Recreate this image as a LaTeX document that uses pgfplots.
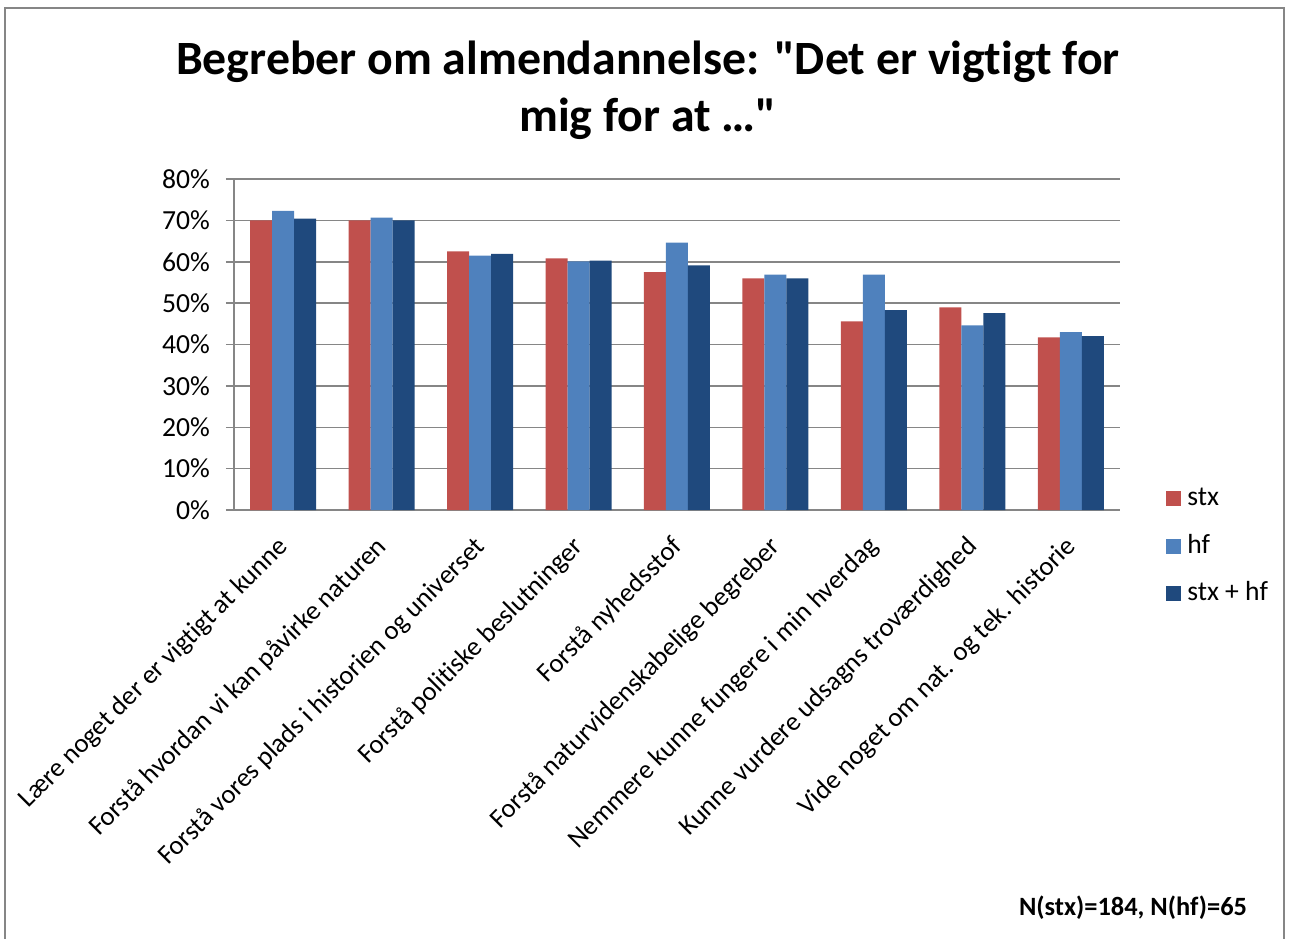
\documentclass[border=0pt]{standalone}
\usepackage{fontspec}
\setmainfont{Carlito}[Ligatures={TeX,NoCommon}]
\newfontfamily\titlefont{Carlito}[Ligatures=NoCommon]
\usepackage{pgfplots}
\pgfplotsset{compat=1.18}
\definecolor{cstx}{HTML}{C0504D}
\definecolor{chf}{HTML}{4F81BD}
\definecolor{cboth}{HTML}{1F497D}
\definecolor{gridc}{HTML}{868686}
\begin{document}
\begin{tikzpicture}
\useasboundingbox (-117pt,-214pt) rectangle (528pt,255pt);
\draw[gridc, line width=0.8pt] (-114.5pt,-220pt) -- (-114.5pt,251pt) -- (525pt,251pt) -- (525pt,-220pt);
\begin{axis}[
  scale only axis,
  width=443pt, height=165.5pt,
  ybar=0pt, bar width=11pt,
  xmin=-0.5, xmax=8.5,
  ymin=0, ymax=80,
  xtick={0,...,8},
  xticklabels={Lære noget der er vigtigt at kunne,
    Forstå hvordan vi kan påvirke naturen,
    Forstå vores plads i historien og universet,
    Forstå politiske beslutninger,
    Forstå nyhedsstof,
    Forstå naturvidenskabelige begreber,
    Nemmere kunne fungere i min hverdag,
    Kunne vurdere udsagns troværdighed,
    Vide noget om nat. og tek. historie},
  xticklabel style={xshift=3pt, yshift=-10pt, rotate=45, anchor=east, font=\fontsize{13.4}{16}\selectfont},
  xtick style={draw=none},
  ytick={0,10,...,80},
  yticklabels={0\%,10\%,20\%,30\%,40\%,50\%,60\%,70\%,80\%},
  yticklabel style={xshift=-4.5pt, font=\fontsize{13.8}{16}\selectfont},
  ymajorgrids,
  grid style={gridc, line width=0.75pt},
  axis x line*=bottom, axis y line*=left,
  axis line style={gridc, line width=0.75pt, -},
  y tick style={gridc, line width=0.75pt},
  tick align=outside, major tick length=4pt,
  legend style={draw=none, fill=none, at={(1.045,0.08)}, anchor=north west,
    font=\fontsize{13.8}{16}\selectfont, row sep=12.75pt,
    nodes={inner sep=0pt, text height=9pt, text depth=2pt}},
  legend cell align=left,
  legend image code/.code={\fill[#1] (0pt,-3.75pt) rectangle (7.5pt,3.75pt);},
  /tikz/every odd column/.append style={column sep=3pt},
]
\addplot[fill=cstx, draw=none] coordinates {(0,70.0) (1,70.0) (2,62.5) (3,60.8) (4,57.5) (5,56.0) (6,45.6) (7,49.0) (8,41.7)};
\addplot[fill=chf, draw=none] coordinates {(0,72.3) (1,70.7) (2,61.5) (3,60.1) (4,64.6) (5,56.9) (6,56.9) (7,44.6) (8,43.0)};
\addplot[fill=cboth, draw=none] coordinates {(0,70.4) (1,70.0) (2,61.9) (3,60.3) (4,59.1) (5,56.0) (6,48.3) (7,47.6) (8,42.0)};
\legend{stx, hf, stx + hf}
\end{axis}
\node[font=\titlefont\bfseries\fontsize{23.9}{29}\selectfont, anchor=base] at (207pt,217.5pt) {Begreber om almendannelse: "Det er vigtigt for};
\node[font=\titlefont\bfseries\fontsize{23.9}{29}\selectfont, anchor=base] at (207pt,189pt) {mig for at …"};
\node[font=\bfseries\fontsize{13.2}{15}\selectfont, anchor=base east] at (510pt,-202.5pt) {N(stx)=184, N(hf)=65};
\end{tikzpicture}
\end{document}
